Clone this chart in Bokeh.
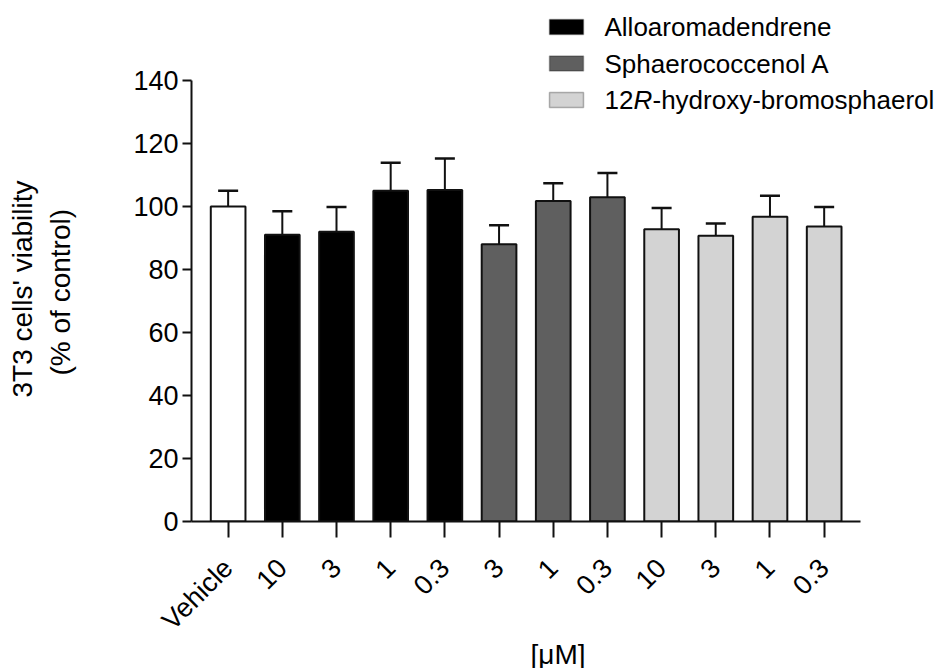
import math
from bokeh.plotting import figure
from bokeh.models import (ColumnDataSource, FixedTicker, Whisker, TeeHead, Range1d,
                          BoxAnnotation, Label, Title, LinearAxis)
from bokeh.embed import file_html
from bokeh.resources import INLINE

# ---- data ----
tick_labels = ["Vehicle", "10", "3", "1", "0.3", "3", "1", "0.3", "10", "3", "1", "0.3"]
compound = ["Vehicle", "Alloaromadendrene", "Alloaromadendrene", "Alloaromadendrene",
            "Alloaromadendrene", "Sphaerococcenol A", "Sphaerococcenol A", "Sphaerococcenol A",
            "12R-hydroxy-bromosphaerol", "12R-hydroxy-bromosphaerol",
            "12R-hydroxy-bromosphaerol", "12R-hydroxy-bromosphaerol"]
viability = [100, 91, 92, 105, 105.2, 88, 101.7, 102.9, 92.8, 90.7, 96.7, 93.6]
sem = [5, 7.5, 7.8, 8.9, 10, 6, 5.7, 7.7, 6.7, 3.9, 6.7, 6.2]
y_ticks = [0, 20, 40, 60, 80, 100, 120, 140]
y_title = ["3T3 cells' viability", "(% of control)"]
x_title = "[\u03bcM]"

legend_names = ["Alloaromadendrene", "Sphaerococcenol A", "12R-hydroxy-bromosphaerol"]
colors = {"Vehicle": "#ffffff", "Alloaromadendrene": "#000000",
          "Sphaerococcenol A": "#5f5f5f", "12R-hydroxy-bromosphaerol": "#d3d3d3"}

FONT = "Liberation Sans"
TICK_FS = "27px"
LEG_FS = "26px"
EDGE = "#111111"

xs = list(range(len(tick_labels)))
src = ColumnDataSource(dict(
    x=xs, top=viability,
    upper=[v + e for v, e in zip(viability, sem)],
    color=[colors[c] for c in compound],
))

p = figure(width=940, height=668, output_backend="svg", toolbar_location=None,
           x_range=Range1d(-0.676, 13.147), y_range=Range1d(0, 162.2),
           min_border_left=191, min_border_right=0, min_border_top=10,
           min_border_bottom=147)
p.outline_line_color = None
p.grid.visible = False
p.background_fill_color = "white"

p.vbar(x="x", top="top", width=0.64, bottom=0, source=src, fill_color="color",
       line_color=EDGE, line_width=2)

w = Whisker(base="x", lower="top", upper="upper", source=src,
            line_color=EDGE, line_width=2,
            upper_head=TeeHead(size=20, line_color=EDGE, line_width=2.5),
            lower_head=None)
p.add_layout(w)

# axes
for ax in (p.xaxis[0], p.yaxis[0]):
    ax.minor_tick_line_color = None
    ax.major_tick_in = 0
    ax.major_tick_line_width = 2
    ax.major_tick_line_color = EDGE
    ax.axis_line_width = 2
    ax.axis_line_color = EDGE
    ax.major_label_text_font = FONT
    ax.major_label_text_font_size = TICK_FS
    ax.major_label_text_color = "black"

xa = p.xaxis[0]
xa.ticker = FixedTicker(ticks=xs)
xa.major_label_overrides = {i: t for i, t in enumerate(tick_labels)}
xa.major_label_orientation = math.pi / 4
xa.bounds = (-0.676, 11.676)
xa.major_tick_out = 16
xa.major_label_standoff = 26

ya = p.yaxis[0]
ya.ticker = FixedTicker(ticks=y_ticks)
ya.bounds = (0, 140)
ya.major_tick_out = 9
ya.major_label_standoff = 4

# invisible spacer between the tick labels and the y title
spacer = LinearAxis(ticker=FixedTicker(ticks=[0]), major_label_overrides={0: ""},
                    axis_line_color=None, major_tick_line_color=None,
                    minor_tick_line_color=None, major_tick_in=0, major_tick_out=51,
                    minor_tick_out=0, major_label_standoff=0,
                    major_label_text_font_size="1px")
p.add_layout(spacer, "left")

# axis titles as side-panel titles
p.add_layout(Title(text=x_title, align="left", offset=339, standoff=-26,
                   text_font=FONT, text_font_size="28px", text_font_style="normal",
                   text_color="black"), "below")
p.add_layout(Title(text=y_title[1], align="left", offset=146, standoff=8,
                   text_font=FONT, text_font_size="28px", text_font_style="normal",
                   text_color="black"), "left")
p.add_layout(Title(text=y_title[0], align="left", offset=124, standoff=2,
                   text_font=FONT, text_font_size="28px", text_font_style="normal",
                   text_color="black"), "left")

# manual legend (frame-relative screen units)
row_y = [494.5, 458, 421.5]
for name, yc in zip(legend_names, row_y):
    p.add_layout(BoxAnnotation(left=358, right=392, bottom=yc - 7.5, top=yc + 7.5,
                               left_units="screen", right_units="screen",
                               bottom_units="screen", top_units="screen",
                               fill_color=colors[name], fill_alpha=1,
                               line_color=EDGE, line_width=1.5))
for name, yc in zip(legend_names[:2], row_y[:2]):
    p.add_layout(Label(x=413, y=yc, x_units="screen", y_units="screen", text=name,
                       text_font=FONT, text_font_size=LEG_FS, text_baseline="middle",
                       text_color="black"))
parts = [("12", "normal", 413), ("R", "italic", 442), ("-hydroxy-bromosphaerol", "normal", 461)]
for t, st, xx in parts:
    p.add_layout(Label(x=xx, y=row_y[2], x_units="screen", y_units="screen", text=t,
                       text_font=FONT, text_font_size=LEG_FS, text_font_style=st,
                       text_baseline="middle", text_color="black"))

open("out.html", "w").write(file_html(p, INLINE))
